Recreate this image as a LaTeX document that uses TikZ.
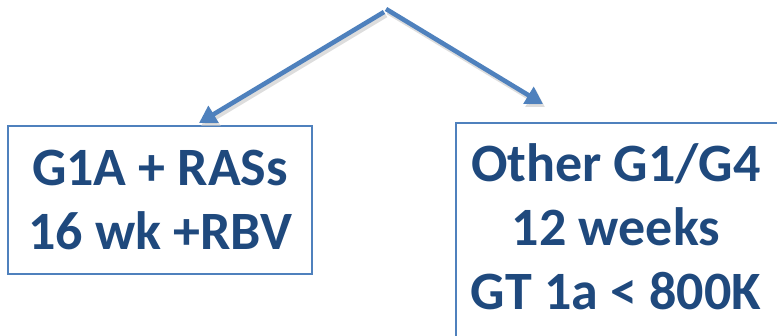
\documentclass[tikz,border=0pt]{standalone}
\usepackage{fontspec}
\setmainfont{Carlito}
\usepackage{xcolor}
\usetikzlibrary{arrows.meta}
\definecolor{boxblue}{HTML}{4F81BD}
\definecolor{txtblue}{HTML}{1F497D}

\begin{document}
\begin{tikzpicture}[x=1pt,y=-1pt,
    regtext/.style={align=center,inner sep=0pt,
      font=\fontsize{54}{64}\selectfont\bfseries,text=txtblue},
    regbox/.style={regtext,draw=boxblue,line width=1.8pt},
    branch/.style={boxblue,line width=4.6pt,-{Triangle[length=17pt,width=19pt]}},
    branchshade/.style={black!22,line width=5pt,opacity=0.6,-{Triangle[length=17pt,width=19pt]}}]
  \useasboundingbox (0,0) rectangle (777,336);
  \clip (0,0) rectangle (777,336);
  % ---- the two regimens ----
  \node[regbox,minimum width=304pt,minimum height=148pt] (short) at (160,200)
    {G1A + RASs\\16 wk +RBV};
  \draw[boxblue,line width=1.8pt] (456,123) rectangle (800,360);
  \node[regtext] (long) at (616,227)
    {Other G1/G4\\12 weeks\\GT 1a < 800K};
  % ---- branches from the top ----
  \coordinate (apexL) at (384,12);
  \coordinate (apexR) at (386,9);
  \coordinate (tipL) at (199,123);
  \coordinate (tipR) at (543,104);
  \draw[branchshade] ([shift={(2,3)}]apexL) -- ([shift={(2,3)}]tipL);
  \draw[branchshade] ([shift={(2,3)}]apexR) -- ([shift={(2,3)}]tipR);
  \draw[branch] (apexL) -- (tipL);
  \draw[branch] (apexR) -- (tipR);
\end{tikzpicture}
\end{document}
